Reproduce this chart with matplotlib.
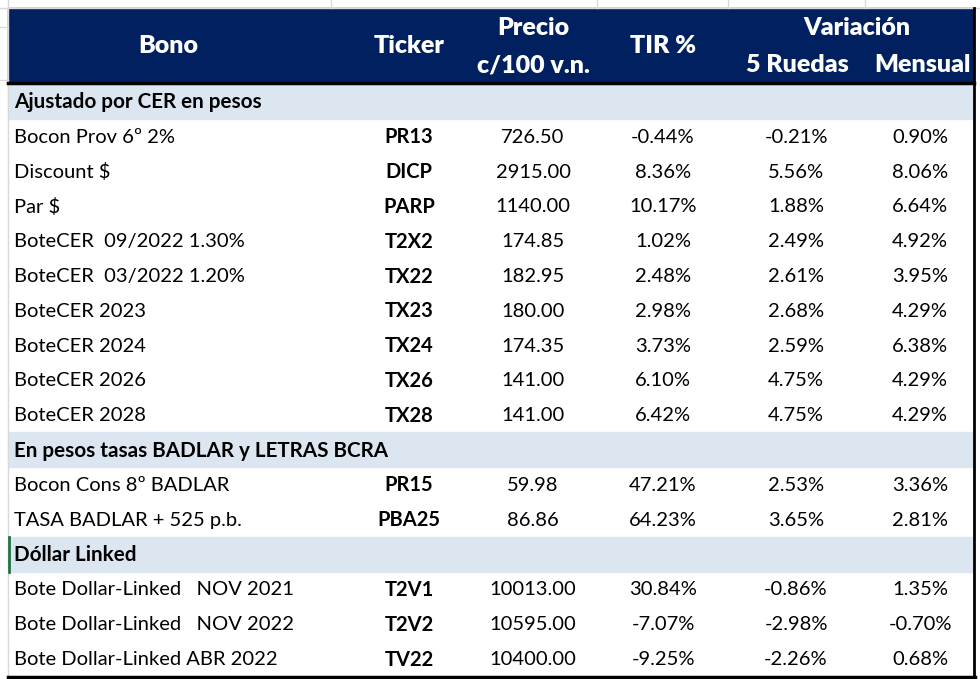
import matplotlib
matplotlib.use('Agg')
import matplotlib.pyplot as plt
from matplotlib.patches import Rectangle

# table data
sections = ['Ajustado por CER en pesos', 'En pesos tasas BADLAR y LETRAS BCRA', 'Dóllar Linked']
section_idx = [0, 0, 0, 0, 0, 0, 0, 0, 0, 1, 1, 2, 2, 2]
bonos = ['Bocon Prov 6º 2%', 'Discount $', 'Par $',
         'BoteCER  09/2022 1.30%', 'BoteCER  03/2022 1.20%',
         'BoteCER 2023', 'BoteCER 2024', 'BoteCER 2026', 'BoteCER 2028',
         'Bocon Cons 8º BADLAR', 'TASA BADLAR + 525 p.b.',
         'Bote Dollar-Linked   NOV 2021', 'Bote Dollar-Linked   NOV 2022',
         'Bote Dollar-Linked ABR 2022']
tickers = ['PR13', 'DICP', 'PARP', 'T2X2', 'TX22', 'TX23', 'TX24', 'TX26', 'TX28',
           'PR15', 'PBA25', 'T2V1', 'T2V2', 'TV22']
precio = [726.50, 2915.00, 1140.00, 174.85, 182.95, 180.00, 174.35, 141.00, 141.00,
          59.98, 86.86, 10013.00, 10595.00, 10400.00]
tir = [-0.44, 8.36, 10.17, 1.02, 2.48, 2.98, 3.73, 6.10, 6.42,
       47.21, 64.23, 30.84, -7.07, -9.25]
var_5r = [-0.21, 5.56, 1.88, 2.49, 2.61, 2.68, 2.59, 4.75, 4.75,
          2.53, 3.65, -0.86, -2.98, -2.26]
var_mes = [0.90, 8.06, 6.64, 4.92, 3.95, 4.29, 6.38, 4.29, 4.29,
           3.36, 2.81, 1.35, -0.70, 0.68]

NAVY = '#002060'
SECT = '#DCE6F1'
GRID = '#D9D9D9'
FONT = 'Lato'
FS = 14.5
FS_HDR = 18

fig = plt.figure(figsize=(9.8, 6.79), dpi=100)
ax = fig.add_axes([0, 0, 1, 1])
ax.set_xlim(0, 980)
ax.set_ylim(679, 0)
ax.axis('off')

left, right = 8, 974
top_hdr, bot_hdr = 8, 82
y0 = 84
rh = (676 - y0) / (len(bonos) + len(sections))

# excel gridlines around the table
ax.plot([0, 980], [7.5, 7.5], color=GRID, lw=1)
for gx in [331, 597, 728, 865]:
    ax.plot([gx, gx], [0, 7.5], color=GRID, lw=1)
ax.plot([7.5, 7.5], [0, 679], color=GRID, lw=1)
for gy in [27, 80]:
    ax.plot([0, 7.5], [gy, gy], color=GRID, lw=1)

# header block
ax.add_patch(Rectangle((left, top_hdr), right - left, bot_hdr - top_hdr, color=NAVY, zorder=1))
hdr_kw = dict(color='white', fontweight='heavy', fontsize=FS_HDR, family=FONT,
              ha='center', va='center', zorder=3)
ax.text(168, 46, 'Bono', **hdr_kw)
ax.text(409, 46, 'Ticker', **hdr_kw)
ax.text(533, 28, 'Precio', **hdr_kw)
ax.text(533, 65, 'c/100 v.n.', **hdr_kw)
ax.text(663, 46, 'TIR %', **hdr_kw)
ax.text(857, 28, 'Variación', **hdr_kw)
ax.text(797, 65, '5 Ruedas', **hdr_kw)
ax.text(922, 65, 'Mensual', **hdr_kw)

col_x = [409, 533, 663, 796, 920]

row = 0
prev = None
for i in range(len(bonos)):
    if section_idx[i] != prev:
        prev = section_idx[i]
        ys = y0 + row * rh
        ax.add_patch(Rectangle((left, ys), right - left, rh, color=SECT, zorder=1))
        ax.text(14, ys + rh / 2 + 1, sections[prev], fontweight='bold', fontsize=FS + 0.4,
                family=FONT, ha='left', va='center', color='black', zorder=3)
        if prev == 2:
            ax.plot([9, 9], [ys, ys + rh], color='#217346', lw=2, zorder=4)
        row += 1
    yc = y0 + row * rh + rh / 2 + 1
    kw = dict(fontsize=FS, family=FONT, va='center', color='black', zorder=3)
    ax.text(14, yc, bonos[i], ha='left', **kw)
    ax.text(col_x[0], yc, tickers[i], ha='center', fontweight='bold', **kw)
    ax.text(col_x[1], yc, f'{precio[i]:.2f}', ha='center', **kw)
    ax.text(col_x[2], yc, f'{tir[i]:.2f}%', ha='center', **kw)
    ax.text(col_x[3], yc, f'{var_5r[i]:.2f}%', ha='center', **kw)
    ax.text(col_x[4], yc, f'{var_mes[i]:.2f}%', ha='center', **kw)
    row += 1

# borders
ax.plot([left, right], [83, 83], color='black', lw=2.5, zorder=5)
ax.plot([right, right], [top_hdr, 677], color='black', lw=2, zorder=5)
ax.plot([left, right + 1], [676.5, 676.5], color='black', lw=2.5, zorder=5)

fig.savefig('out.png', dpi=100)
